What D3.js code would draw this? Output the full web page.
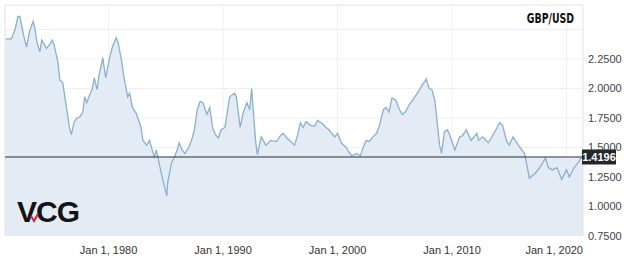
<!DOCTYPE html>
<html lang="en">
  <head>
    <meta charset="utf-8">
    <title>GBP/USD</title>
    <script src="https://d3js.org/d3.v7.min.js"></script>
    <style>
      body { margin: 0; background: #ffffff; }
      svg { display: block; }
      .tick-label { font: 11px "Liberation Sans", Arial, sans-serif; fill: #444; }
    </style>
  </head>
  <body>
    <script type="text/javascript">
    // GBP/USD rate
    var dates = [
      "1971-01","1971-07","1971-11","1972-02","1972-04","1972-08","1972-11","1973-02","1973-06","1973-08",
      "1973-10","1974-01","1974-03","1974-06","1974-08","1974-11","1975-02","1975-04","1975-08","1975-10",
      "1976-01","1976-03","1976-06","1976-08","1976-10","1977-01","1977-04","1977-07","1977-10","1977-12",
      "1978-02","1978-05","1978-08","1978-10","1979-01","1979-03","1979-07","1979-10","1980-02","1980-05",
      "1980-09","1980-11","1981-03","1981-05","1981-09","1981-11","1982-02","1982-06","1982-11","1983-01",
      "1983-05","1983-08","1983-10","1984-01","1984-03","1984-07","1984-10","1985-02","1985-03","1985-07",
      "1985-10","1986-01","1986-03","1986-06","1986-09","1987-01","1987-04","1987-07","1987-10","1988-01",
      "1988-04","1988-08","1988-11","1989-02","1989-05","1989-08","1989-11","1990-03","1990-08","1991-01",
      "1991-03","1991-07","1991-10","1992-02","1992-05","1992-07","1992-09","1992-11","1993-01","1993-05",
      "1993-10","1994-03","1994-09","1995-01","1995-04","1995-08","1995-12","1996-04","1996-07","1996-10",
      "1997-01","1997-04","1997-08","1998-01","1998-04","1998-08","1999-01","1999-04","1999-10","2000-01",
      "2000-05","2000-10","2001-01","2001-04","2001-09","2002-01","2002-03","2002-07","2002-10","2003-02",
      "2003-06","2003-09","2004-01","2004-04","2004-07","2004-10","2005-02","2005-06","2005-09","2005-12",
      "2006-04","2006-10","2007-03","2007-06","2007-10","2008-01","2008-04","2008-07","2008-10","2008-12",
      "2009-02","2009-05","2009-08","2009-10","2010-04","2010-09","2010-12","2011-04","2011-09","2012-03",
      "2012-05","2012-09","2013-03","2013-06","2013-11","2014-03","2014-06","2014-10","2015-01","2015-05",
      "2015-09","2016-02","2016-05","2016-08","2016-10","2017-04","2017-09","2018-03","2018-06","2018-10",
      "2019-03","2019-08","2020-01","2020-04","2020-09","2021-01","2021-04","2021-06"
    ];
    var rates = [
      2.42,2.42,2.50,2.61,2.61,2.45,2.35,2.48,2.57,2.50,
      2.39,2.31,2.41,2.37,2.34,2.37,2.41,2.37,2.22,2.07,
      2.05,1.94,1.78,1.67,1.61,1.72,1.75,1.76,1.80,1.93,
      1.88,1.94,2.00,2.09,1.99,2.11,2.26,2.09,2.26,2.35,
      2.43,2.39,2.22,2.10,1.93,1.96,1.84,1.79,1.67,1.56,
      1.52,1.56,1.50,1.42,1.48,1.33,1.22,1.09,1.20,1.37,
      1.42,1.48,1.54,1.48,1.45,1.50,1.56,1.65,1.82,1.89,
      1.88,1.78,1.84,1.67,1.61,1.58,1.65,1.67,1.93,1.96,
      1.93,1.67,1.79,1.88,1.82,2.00,1.78,1.56,1.44,1.59,
      1.52,1.56,1.55,1.60,1.62,1.58,1.55,1.52,1.60,1.71,
      1.67,1.72,1.69,1.68,1.73,1.71,1.67,1.65,1.59,1.62,
      1.54,1.50,1.46,1.43,1.45,1.43,1.48,1.56,1.55,1.59,
      1.62,1.69,1.82,1.84,1.80,1.92,1.90,1.82,1.78,1.80,
      1.86,1.93,1.99,2.03,2.08,2.00,1.99,1.90,1.67,1.52,
      1.45,1.63,1.65,1.62,1.48,1.59,1.60,1.65,1.56,1.62,
      1.56,1.59,1.54,1.58,1.65,1.71,1.69,1.56,1.52,1.59,
      1.54,1.48,1.45,1.33,1.24,1.28,1.33,1.41,1.33,1.31,
      1.33,1.23,1.31,1.25,1.33,1.37,1.41,1.4196
    ];
    var lastRate = 1.4196;
    var yTicks = [0.75, 1.0, 1.25, 1.5, 1.75, 2.0, 2.25];
    var yGrid = [1.0, 1.25, 1.5, 1.75, 2.0, 2.25, 2.5];
    var xTickYears = [1980, 1990, 2000, 2010, 2020];
    var title = "GBP/USD";

    var parseMonth = d3.timeParse("%Y-%m");
    var dataset = dates.map(function(d, i) {
      return { date: parseMonth(d), rate: rates[i] };
    });

    var w = 624;
    var h = 263;
    // plot box (the name "top" is taken by window.top)
    var pLeft = 5, pRight = 583, pTop = 5, pBottom = 236;

    var svg = d3.select("body")
                .append("svg")
                .attr("width", w)
                .attr("height", h)
    ;

    var xScale = d3.scaleTime()
                   .domain([new Date(1970, 11, 15), new Date(2021, 5, 10)])
                   .range([pLeft, pRight])
    ;
    var yScale = d3.scaleLinear()
                   .domain([0.75, 2.7076])
                   .range([pBottom, pTop])
    ;

    // gridlines
    svg.selectAll("line.hgrid")
       .data(yGrid)
       .enter()
       .append("line")
       .attr("class", "hgrid")
       .attr("x1", pLeft).attr("x2", pRight)
       .attr("y1", function(d) { return yScale(d); })
       .attr("y2", function(d) { return yScale(d); })
       .attr("stroke", "#f0f0f0")
    ;
    svg.selectAll("line.vgrid")
       .data(xTickYears)
       .enter()
       .append("line")
       .attr("class", "vgrid")
       .attr("x1", function(d) { return xScale(new Date(d, 0, 1)); })
       .attr("x2", function(d) { return xScale(new Date(d, 0, 1)); })
       .attr("y1", pTop).attr("y2", pBottom)
       .attr("stroke", "#f0f0f0")
    ;

    // filled area under the curve, plus the band under the last price
    var area = d3.area()
                 .x(function(d) { return xScale(d.date); })
                 .y0(pBottom)
                 .y1(function(d) { return yScale(d.rate); })
    ;
    svg.append("path")
       .datum(dataset)
       .attr("d", area)
       .attr("fill", "#e3ecf5")
    ;
    svg.append("rect")
       .attr("x", pLeft)
       .attr("y", yScale(lastRate))
       .attr("width", pRight - pLeft)
       .attr("height", pBottom - yScale(lastRate))
       .attr("fill", "#e3ecf5")
    ;

    var line = d3.line()
                 .x(function(d) { return xScale(d.date); })
                 .y(function(d) { return yScale(d.rate); })
    ;
    svg.append("path")
       .datum(dataset)
       .attr("d", line)
       .attr("fill", "none")
       .attr("stroke", "#8cb0cc")
       .attr("stroke-width", 1.3)
    ;

    // frame
    svg.append("path")
       .attr("d", "M" + pLeft + "," + pBottom + "V" + pTop + "H" + pRight + "V" + pBottom)
       .attr("fill", "none")
       .attr("stroke", "#e2e2e2")
    ;

    // last price line
    svg.append("line")
       .attr("x1", pLeft).attr("x2", pRight)
       .attr("y1", yScale(lastRate)).attr("y2", yScale(lastRate))
       .attr("stroke", "#2b2f33")
       .attr("stroke-width", 1)
    ;

    // y axis labels on the right
    svg.selectAll("text.ylab")
       .data(yTicks)
       .enter()
       .append("text")
       .attr("class", "tick-label")
       .attr("x", pRight + 5)
       .attr("y", function(d) { return yScale(d) + 4; })
       .text(d3.format(".4f"))
    ;

    // last price tag (sits over the 1.5000 label, as in the original)
    svg.append("rect")
       .attr("x", pRight - 1)
       .attr("y", yScale(lastRate) - 7.5)
       .attr("width", 34)
       .attr("height", 15)
       .attr("fill", "#23272b")
    ;
    svg.append("text")
       .attr("x", pRight + 16)
       .attr("y", yScale(lastRate) + 4)
       .attr("text-anchor", "middle")
       .attr("fill", "#ffffff")
       .style("font", "bold 11px 'Liberation Sans', Arial, sans-serif")
       .text(lastRate.toFixed(4))
    ;

    // x axis labels
    var fmt = d3.timeFormat("%b %-d, %Y");
    svg.selectAll("text.xlab")
       .data(xTickYears)
       .enter()
       .append("text")
       .attr("class", "tick-label")
       .attr("x", function(d, i) {
         var x = xScale(new Date(d, 0, 1));
         return i == xTickYears.length - 1 ? pRight : x;
       })
       .attr("y", 254)
       .attr("text-anchor", function(d, i) { return i == xTickYears.length - 1 ? "end" : "middle"; })
       .style("fill", "#333")
       .text(function(d) { return fmt(new Date(d, 0, 1)); })
    ;

    // title, squeezed to look like a condensed display face
    svg.append("text")
       .attr("transform", "translate(574,23) scale(0.78,1.2)")
       .attr("text-anchor", "end")
       .attr("fill", "#111")
       .style("font", "bold 12px 'DejaVu Sans', sans-serif")
       .text(title)
    ;

    // watermark logo
    svg.append("text")
       .attr("x", 17)
       .attr("y", 222)
       .attr("fill", "#141414")
       .attr("letter-spacing", "-1")
       .style("font", "bold 30px 'Liberation Sans', Arial, sans-serif")
       .text("VCG")
    ;
    svg.append("path")
       .attr("d", "M31,216 L34,221 L38,214")
       .attr("fill", "none")
       .attr("stroke", "#d8243a")
       .attr("stroke-width", 2)
    ;
    </script>
  </body>
</html>
